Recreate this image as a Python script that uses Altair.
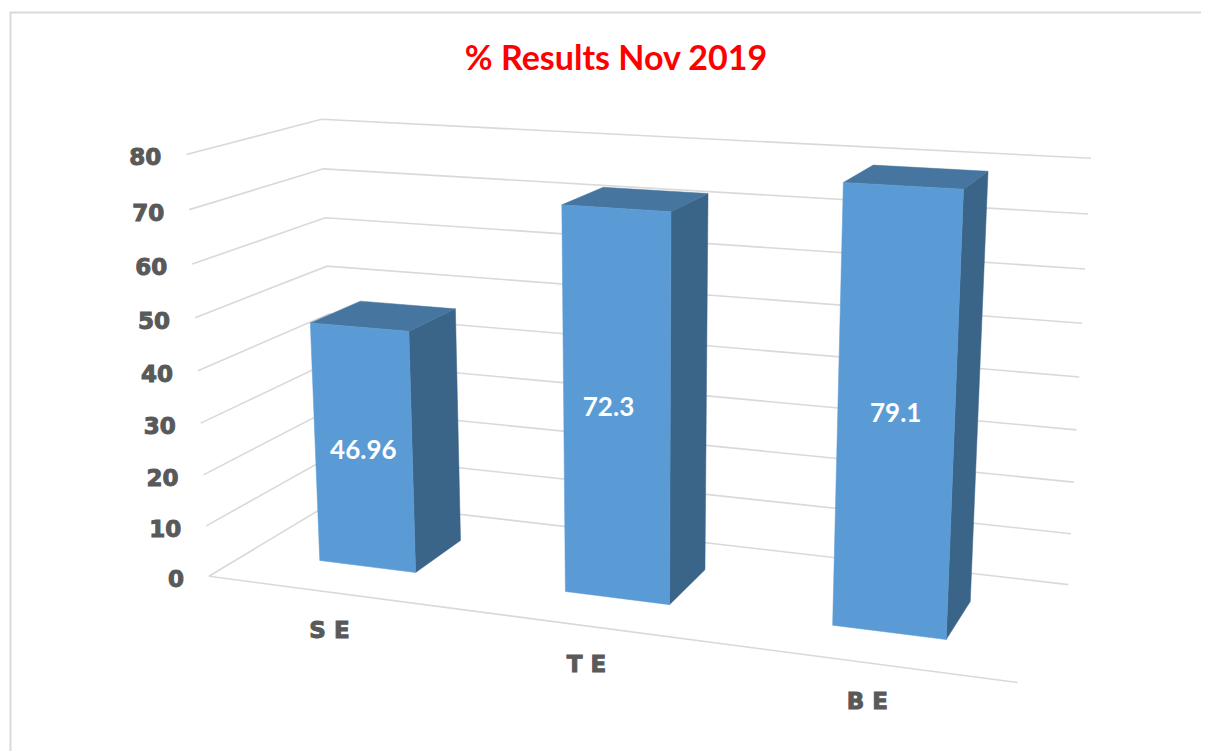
import altair as alt
import numpy as np
import pandas as pd

categories = ["S E", "T E", "B E"]
values = [46.96, 72.3, 79.1]
value_labels = ["46.96", "72.3", "79.1"]
ticks = [0, 10, 20, 30, 40, 50, 60, 70, 80]
title = "% Results Nov 2019"

# hand placement of the data labels on the front faces, in pixels
label_dx = [0, -8, 0]
label_dy = [2, 0, -1]

# camera calibrated from the reference's box corners: (slot, depth, value) -> page pixel
world = [(0,0,0),(0,0,40),(0,0,80),(0,1,50),(0,1,80),(3,1,10),(3,1,70),(3,1,80),(3,1,0),(3,0,0),(0,0,10)]
image = [(209,576),(198,371),(186,155),(327,266),(322,119),(1071,534),(1088,214),(1091,158),(1068,585),(1018,682),(206,526)]
A = []
for (X, D, V), (u, v) in zip(world, image):
    P = [X, D, V / 80, 1]
    A.append(P + [0, 0, 0, 0] + [-u * c for c in P])
    A.append([0, 0, 0, 0] + P + [-v * c for c in P])
CAM = np.linalg.svd(np.array(A, float))[2][-1].reshape(3, 4)


def project(X, D, V):
    u, v, w = CAM @ np.array([X, D, V / 80, 1.0])
    return u / w, v / w


BAR_HALF = 0.2
D0, D1 = 0.3, 0.7

grid, faces = [], {"side": [], "top": [], "front": []}
for t in ticks:
    for o, p in enumerate([(0, 0, t), (0, 1, t), (3, 1, t)]):
        x, y = project(*p)
        grid.append(dict(line=f"t{t}", o=o, x=x, y=y))
for o, p in enumerate([(0, 0, 0), (3, 0, 0)]):
    x, y = project(*p)
    grid.append(dict(line="front", o=o, x=x, y=y))

for i, (c, val) in enumerate(zip(categories, values)):
    a, b = i + 0.5 - BAR_HALF, i + 0.5 + BAR_HALF
    polys = {
        "front": [(a, D0, 0), (b, D0, 0), (b, D0, val), (a, D0, val), (a, D0, 0)],
        "side": [(b, D0, 0), (b, D1, 0), (b, D1, val), (b, D0, val), (b, D0, 0)],
        "top": [(a, D0, val), (b, D0, val), (b, D1, val), (a, D1, val), (a, D0, val)],
    }
    for k, pts in polys.items():
        for o, p in enumerate(pts):
            x, y = project(*p)
            faces[k].append(dict(bar=c, o=o, x=x, y=y))

tick_df = pd.DataFrame(
    [dict(t=str(t), x=project(0, 0, t)[0] - 25, y=project(0, 0, t)[1] + 4) for t in ticks]
)
cat_df = pd.DataFrame(
    [dict(t=c, x=project(i + 0.5, 0, 0)[0], y=project(i + 0.5, 0, 0)[1] + 39) for i, c in enumerate(categories)]
)
val_df = pd.DataFrame(
    [dict(t=l, x=project(i + 0.5, D0, v / 2)[0] + label_dx[i], y=project(i + 0.5, D0, v / 2)[1] + label_dy[i])
     for i, (l, v) in enumerate(zip(value_labels, values))]
)

xs = alt.Scale(domain=[8, 1201], range=[0, 1193], nice=False, zero=False)
ys = alt.Scale(domain=[8, 751], range=[0, 743], nice=False, zero=False)
X = alt.X("x:Q", scale=xs, axis=None)
Y = alt.Y("y:Q", scale=ys, axis=None)

grid_layer = alt.Chart(pd.DataFrame(grid)).mark_line(color="#D9D9D9", strokeWidth=1.6).encode(
    x=X, y=Y, detail="line:N", order="o:Q"
)


def face(k, color):
    return alt.Chart(pd.DataFrame(faces[k])).mark_line(fill=color, stroke=color, strokeWidth=0.5).encode(
        x=X, y=Y, detail="bar:N", order="o:Q"
    )


frame = alt.Chart(pd.DataFrame([dict(o=0, x=1201, y=12.5), dict(o=1, x=10.5, y=12.5), dict(o=2, x=10.5, y=751)])).mark_line(
    color="#D9D9D9", strokeWidth=2
).encode(x=X, y=Y, order="o:Q")


def text(df, color, font, size, heavy=0.0, align="center"):
    kw = dict(stroke=color, strokeWidth=heavy) if heavy else {}
    return alt.Chart(df).mark_text(color=color, font=font, fontSize=size, fontWeight="bold", align=align, baseline="middle", **kw).encode(
        x=X, y=Y, text="t:N"
    )


title_df = pd.DataFrame([dict(t=title, x=616, y=60)])

chart = alt.layer(
    frame,
    grid_layer,
    face("side", "#3A6488"),
    face("top", "#46769F"),
    face("front", "#5B9BD5"),
    text(tick_df, "#595959", "DejaVu Sans", 23, 1.0, "right"),
    text(cat_df, "#595959", "DejaVu Sans", 23, 1.0),
    text(val_df, "#FFFFFF", "Lato", 26),
    text(title_df, "#FF0000", "Lato", 34),
).properties(width=1193, height=743, padding=0, autosize=alt.AutoSizeParams(type="none")).configure_view(stroke=None)

chart.save("out.html", embed_options={"renderer": "svg", "actions": False})
